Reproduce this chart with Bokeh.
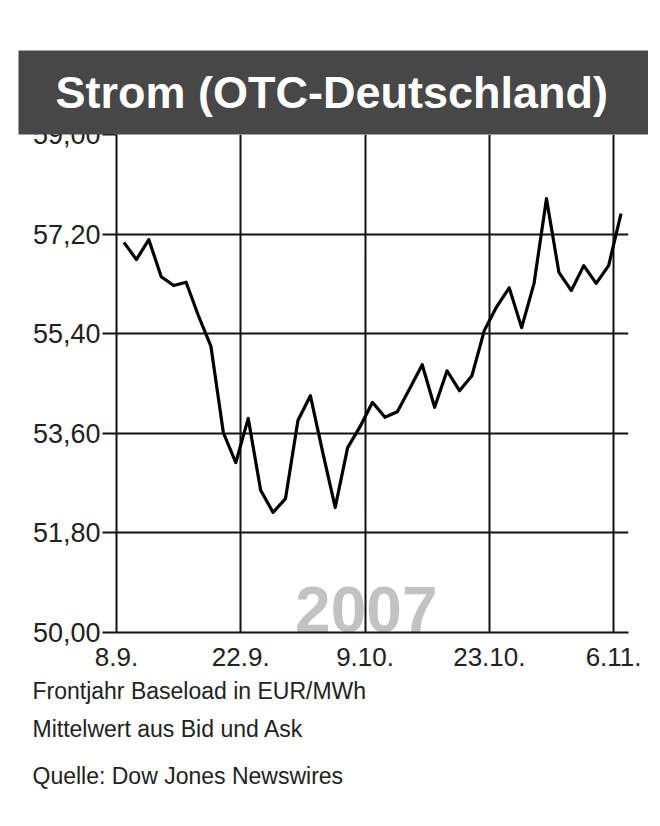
from bokeh.plotting import figure
from bokeh.models import Range1d, FixedTicker, Title, LinearAxis
from bokeh.core.properties import value
from bokeh.embed import file_html
from bokeh.resources import INLINE

FONT = "Liberation Sans"

title_text = "Strom (OTC-Deutschland)"
year_label = "2007"
footer_lines = ["Frontjahr Baseload in EUR/MWh", "Mittelwert aus Bid und Ask", "Quelle: Dow Jones Newswires"]

x_tick_pos = [0, 10, 20, 30, 40]
x_tick_labels = ["8.9.", "22.9.", "9.10.", "23.10.", "6.11."]
y_ticks = [50.0, 51.8, 53.6, 55.4, 57.2, 59.0]
y_tick_labels = ["50,00", "51,80", "53,60", "55,40", "57,20", "59,00"]

price = [57.05, 56.74, 57.10, 56.43, 56.27, 56.33, 55.72, 55.17, 53.61, 53.07,
         53.87, 52.57, 52.17, 52.42, 53.83, 54.28, 53.25, 52.26, 53.34, 53.72,
         54.16, 53.89, 53.99, 54.41, 54.84, 54.07, 54.73, 54.37, 54.64, 55.46,
         55.89, 56.23, 55.51, 56.31, 57.84, 56.51, 56.18, 56.63, 56.31, 56.63,
         57.57]
trading_day = [0.6 + i for i in range(len(price))]

W, H = 650, 818
FL, FR, FT, FB = 116, 628, 134, 632   # frame edges in page pixels

p = figure(width=W, height=H, x_range=Range1d(0, 41.2), y_range=Range1d(50, 59),
           output_backend="svg", toolbar_location=None,
           min_border_left=FL, min_border_right=W - FR, min_border_top=FT, min_border_bottom=H - FB)
p.outline_line_color = None
p.background_fill_color = "white"
p.border_fill_color = "white"

# keep references to the real axes before adding the spacer
xa = p.xaxis[0]
ya = p.yaxis[0]

# invisible spacer between the frame and the title bar
spacer = LinearAxis(ticker=FixedTicker(ticks=[]), major_tick_out=41, major_tick_in=0,
                    minor_tick_out=0, minor_tick_in=0, major_label_standoff=0,
                    axis_line_color=None, major_tick_line_color=None, minor_tick_line_color=None)
p.add_layout(spacer, "above")

# title bar (dark box behind white bold text)
p.title = Title(text=title_text, align="left", offset=18 - FL, standoff=0,
                text_color="white", text_font=FONT, text_font_style="bold", text_font_size="45px",
                background_fill_color="#474747", background_fill_alpha=1,
                padding=dict(left=37, right=40, top=16, bottom=17))

p.xgrid.ticker = FixedTicker(ticks=x_tick_pos)
p.ygrid.ticker = FixedTicker(ticks=y_ticks)
for g in (p.xgrid, p.ygrid):
    g.grid_line_color = "#111111"
    g.grid_line_width = 2
    g.grid_line_alpha = 1

xa.ticker = FixedTicker(ticks=x_tick_pos)
xa.major_label_overrides = {k: v for k, v in zip(x_tick_pos, x_tick_labels)}
xa.axis_line_color = "#111111"
xa.axis_line_width = 2
xa.major_tick_out = 0
xa.major_tick_in = 0
xa.minor_tick_line_color = None
xa.major_label_standoff = 15
xa.major_label_text_font = FONT
xa.major_label_text_font_size = "26px"
xa.major_label_text_color = "#222222"

ya.ticker = FixedTicker(ticks=y_ticks)
ya.major_label_overrides = {k: v for k, v in zip(y_ticks, y_tick_labels)}
ya.axis_line_color = "#111111"
ya.axis_line_width = 2
ya.major_tick_out = 14
ya.major_tick_in = 0
ya.major_tick_line_width = 2
ya.major_tick_line_color = "#111111"
ya.minor_tick_line_color = None
ya.major_label_standoff = 2
ya.major_label_text_font = FONT
ya.major_label_text_font_size = "27px"
ya.major_label_text_color = "#222222"

wm = p.text(x=[20.1], y=[50.0], text=[year_label], text_align="center", text_baseline="bottom",
            y_offset=-1, text_color="#c2c2c2", text_font=value(FONT), text_font_style="bold",
            text_font_size="64px")
wm.level = "image"

p.line(trading_day, price, line_color="black", line_width=3.2, line_join="round")

# footer lines
for line_text, so in zip(footer_lines, [14, 7, 30]):
    p.add_layout(Title(text=line_text, align="left", offset=32 - FL, standoff=so,
                       text_color="#222222", text_font=FONT, text_font_style="normal",
                       text_font_size="23px"), "below")

open("out.html", "w").write(file_html(p, INLINE))
